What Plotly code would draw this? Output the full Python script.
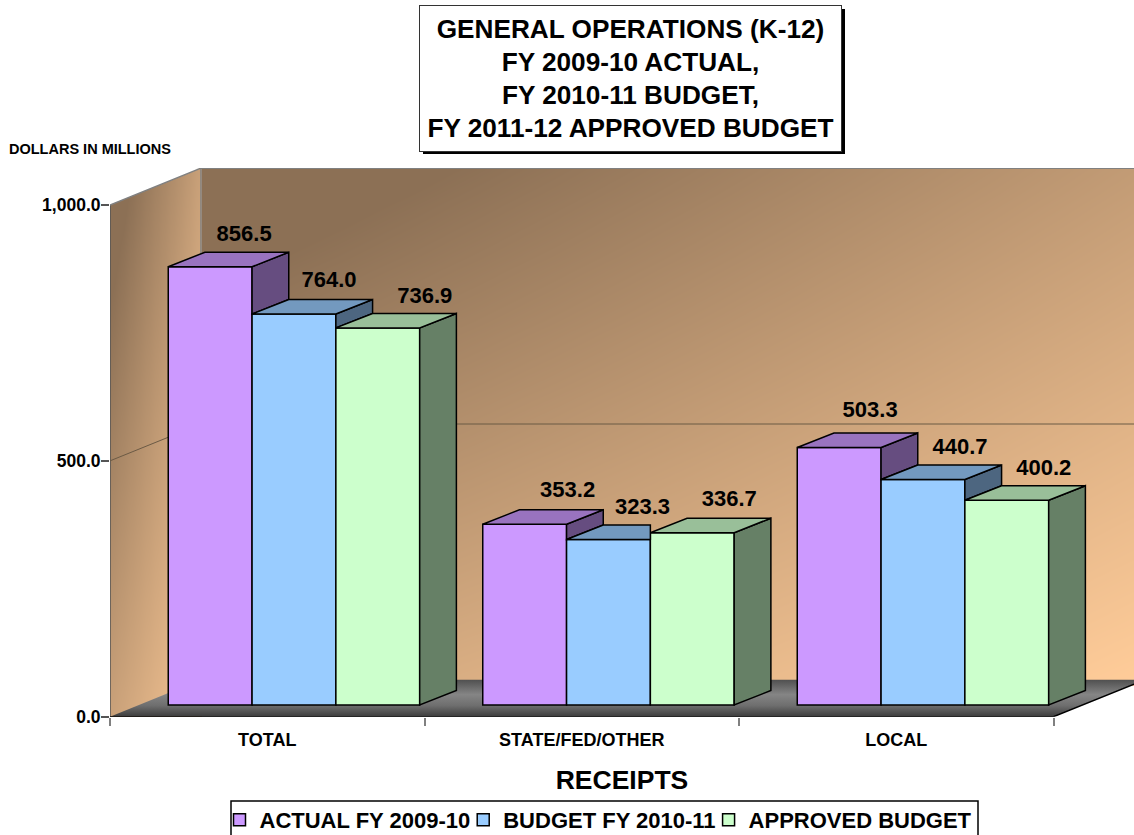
import plotly.graph_objects as go

CATEGORIES = ["TOTAL", "STATE/FED/OTHER", "LOCAL"]
SERIES_NAMES = ["ACTUAL FY 2009-10", "BUDGET FY 2010-11", "APPROVED BUDGET"]
ACTUAL = [856.5, 353.2, 503.3]
BUDGET = [764.0, 323.3, 440.7]
APPROVED = [736.9, 336.7, 400.2]
SERIES = [ACTUAL, BUDGET, APPROVED]
Y_TICKS = [0, 500, 1000]
Y_TICK_LABELS = ["0.0", "500.0", "1,000.0"]
TITLE_LINES = ["GENERAL OPERATIONS (K-12)", "FY 2009-10 ACTUAL,", "FY 2010-11 BUDGET,", "FY 2011-12 APPROVED BUDGET"]

FRONT = ["#CC99FF", "#99CCFF", "#CCFFCC"]
TOP = ["#9973BF", "#7399BF", "#99BF99"]
SIDE = ["#664D80", "#4D6680", "#668066"]
FONT = "Liberation Sans, Arial, sans-serif"

W, H = 1134, 835
LEFT, BOTTOM, TOP_PX = 110.0, 716.7, 168.0
PX_PER_CAT, PX_PER_UNIT = 314.5, 0.5117
XMAX = (W - LEFT) / PX_PER_CAT
YMAX = (BOTTOM - TOP_PX) / PX_PER_UNIT

WALL_DX, WALL_DY = 0.2893, 72.0
BAR_DX, BAR_DY = 0.1167, 28.3
BAR_X0, BAR_BASE = 0.1852, 22.9
BAR_W = 0.2665
# label offsets from the top-front centre of each bar, in pixels
LABEL_OFFSET_X = [[34, 43, 31], [35, 34, 37], [47, 37, 37]]
LABEL_OFFSET_Y = [[31, 33, 36], [33, 31, 31], [30, 32, 31]]


def linear_grid(x0, x1, y0, y1, corners, n=40):
    """Smooth diagonal background shading between four corner shades."""
    xs = [x0 + (x1 - x0) * i / n for i in range(n + 1)]
    ys = [y0 + (y1 - y0) * j / n for j in range(n + 1)]
    a, b, c, d = corners  # bottom-left, bottom-right, top-left, top-right
    z = []
    for j in range(n + 1):
        v = j / n
        z.append([(a * (1 - i / n) + b * (i / n)) * (1 - v) + (c * (1 - i / n) + d * (i / n)) * v for i in range(n + 1)])
    return xs, ys, z


WALL_SCALE = [[0, "#8C7055"], [0.15, "#8C7055"], [1, "#FFCC99"]]

fig = go.Figure()

xs, ys, z = linear_grid(WALL_DX, XMAX, WALL_DY, YMAX, (0.62, 1.0, 0.0, 0.55))
fig.add_trace(go.Heatmap(x=xs, y=ys, z=z, zmin=0, zmax=1, zsmooth="best", colorscale=WALL_SCALE,
                         showscale=False, hoverinfo="skip"))
xs, ys, z = linear_grid(0, WALL_DX, 0, YMAX, (0.6, 0.95, 0.0, 0.6))
fig.add_trace(go.Heatmap(x=xs, y=ys, z=z, zmin=0, zmax=1, zsmooth="best", colorscale=WALL_SCALE,
                         showscale=False, hoverinfo="skip"))


def poly(px, py, fill, ln="black", width=1.5, **kw):
    fig.add_trace(go.Scatter(x=px, y=py, mode="lines", fill="toself", fillcolor=fill,
                             line=dict(color=ln, width=width), showlegend=False, hoverinfo="skip", **kw))


def line(px, py, color="#808080", width=1.5):
    fig.add_trace(go.Scatter(x=px, y=py, mode="lines", line=dict(color=color, width=width),
                             showlegend=False, hoverinfo="skip"))


poly([0, WALL_DX, 0, 0], [1000, 1000 + WALL_DY, 1000 + WALL_DY + 5, 1000], "white", ln="white", width=0)

fx = [0, WALL_DX, XMAX, XMAX, 3]
fy = [0, WALL_DY, WALL_DY, (XMAX - 3) / WALL_DX * WALL_DY, 0]
fig.add_trace(go.Scatter(x=fx + fx[:1], y=fy + fy[:1], mode="lines", fill="toself", line=dict(width=0),
                         fillgradient=dict(type="vertical", colorscale=[
                             [0, "#3C3C3C"], [0.3, "#6E6E6E"], [0.6, "#858585"], [1, "#505050"]]),
                         showlegend=False, hoverinfo="skip"))

line([0, 0], [0, 1000], color="#555555")
line([WALL_DX, WALL_DX], [WALL_DY, 1000 + WALL_DY])
line([0, WALL_DX, XMAX], [1000, 1000 + WALL_DY, 1000 + WALL_DY])
line([0, WALL_DX, XMAX], [500, 500 + WALL_DY, 500 + WALL_DY], color="#6B5A45", width=1)
line([0, 3, XMAX], [0, 0, (XMAX - 3) / WALL_DX * WALL_DY], color="black", width=1.5)

# everything from here on sits on an identical overlaying pair of axes, so it paints over the floor
for s, (name, vals) in enumerate(zip(SERIES_NAMES, SERIES)):
    fig.add_trace(go.Bar(
        x=[i + BAR_X0 + (s + 0.5) * BAR_W for i in range(3)],
        y=vals, base=BAR_BASE, width=BAR_W, name=name, xaxis="x2", yaxis="y2",
        marker=dict(color=FRONT[s], line=dict(color="black", width=1.5)),
        hoverinfo="skip",
    ))

for s, vals in enumerate(SERIES):
    for i, v in enumerate(vals):
        L = i + BAR_X0 + s * BAR_W
        R = L + BAR_W
        t = BAR_BASE + v
        lo = BAR_BASE + SERIES[s + 1][i] if s < 2 else BAR_BASE
        if lo < t:
            poly([R, R + BAR_DX, R + BAR_DX, R, R], [t, t + BAR_DY, lo + BAR_DY, lo, t], SIDE[s], xaxis="x2", yaxis="y2")
            poly([L, R, R + BAR_DX, L + BAR_DX, L], [t, t, t + BAR_DY, t + BAR_DY, t], TOP[s], xaxis="x2", yaxis="y2")
        else:
            poly([L, R, R, L + BAR_DX, L], [t, t, t + BAR_DY, t + BAR_DY, t], TOP[s], xaxis="x2", yaxis="y2")

lx, ly, lt = [], [], []
for s, vals in enumerate(SERIES):
    for i, v in enumerate(vals):
        lx.append(i + BAR_X0 + (s + 0.5) * BAR_W + LABEL_OFFSET_X[s][i] / PX_PER_CAT)
        ly.append(BAR_BASE + v + LABEL_OFFSET_Y[s][i] / PX_PER_UNIT)
        lt.append(f"<b>{v:.1f}</b>")
fig.add_trace(go.Scatter(x=lx, y=ly, mode="text", text=lt, textposition="middle center",
                         textfont=dict(family=FONT, size=22, color="black"),
                         showlegend=False, hoverinfo="skip", cliponaxis=False, xaxis="x2", yaxis="y2"))

x_domain = [LEFT / W, 1]
y_domain = [1 - BOTTOM / H, 1 - TOP_PX / H]
title_text = "<br>".join(f'<span style="font-size:26.2px"><b>{t}</b></span>' for t in TITLE_LINES)
fig.update_layout(
    width=W, height=H, margin=dict(l=0, r=0, t=0, b=0, autoexpand=False),
    paper_bgcolor="white", plot_bgcolor="white",
    font=dict(family=FONT, color="black"),
    barmode="overlay",
    xaxis=dict(domain=x_domain, range=[0, XMAX], tickmode="array",
               tickvals=[0.5, 1.5, 2.5], ticktext=[f"<b>{c}</b>" for c in CATEGORIES],
               tickfont=dict(size=18), ticks="", showgrid=False, zeroline=False,
               showline=False, ticklen=0, ticklabelstandoff=10,
               minor=dict(tickmode="array", tickvals=[0, 1, 2, 3], ticks="outside", ticklen=8,
                          tickcolor="#808080", tickwidth=1.5, showgrid=False),
               title=dict(text="<b>RECEIPTS</b>", font=dict(size=26.5), standoff=21)),
    yaxis=dict(domain=y_domain, range=[0, YMAX], tickmode="array",
               tickvals=Y_TICKS, ticktext=[f"<b>{t}</b>" for t in Y_TICK_LABELS],
               tickfont=dict(size=17.5), ticks="outside", ticklen=8, tickcolor="#555555", tickwidth=1.5,
               ticklabelstandoff=-3, showgrid=False, zeroline=False, showline=False),
    xaxis2=dict(domain=x_domain, range=[0, XMAX], overlaying="x", anchor="y2", visible=False),
    yaxis2=dict(domain=y_domain, range=[0, YMAX], overlaying="y", anchor="x2", visible=False),
    legend=dict(orientation="h", x=231.5 / W, xanchor="left", y=1 - 799 / H, yanchor="top",
                font=dict(size=22, weight="bold"), borderwidth=0, bgcolor="rgba(0,0,0,0)",
                traceorder="normal", indentation=-12),
    shapes=[
        dict(type="rect", xref="paper", yref="paper", x0=231 / W, x1=978 / W, y0=-0.01, y1=1 - 801 / H,
             fillcolor="white", line=dict(color="black", width=1.5), layer="below"),
        dict(type="rect", xref="paper", yref="paper", x0=423 / W, x1=845 / W, y0=1 - 154 / H, y1=1 - 9 / H,
             fillcolor="black", line=dict(width=0), layer="above"),
    ],
    annotations=[
        dict(xref="paper", yref="paper", x=630 / W, y=1 - 78 / H, xanchor="center", yanchor="middle",
             text=title_text, showarrow=False, font=dict(size=25.2), bgcolor="white",
             bordercolor="#333333", borderwidth=1, width=419, height=143),
        dict(xref="paper", yref="paper", x=7 / W, y=1 - 149 / H, xanchor="left", yanchor="middle",
             text="<b>DOLLARS IN MILLIONS</b>", showarrow=False, font=dict(size=14.5)),
    ],
)

fig.write_html("out.html", config={"displayModeBar": False}, post_script="document.body.style.margin='0';")
